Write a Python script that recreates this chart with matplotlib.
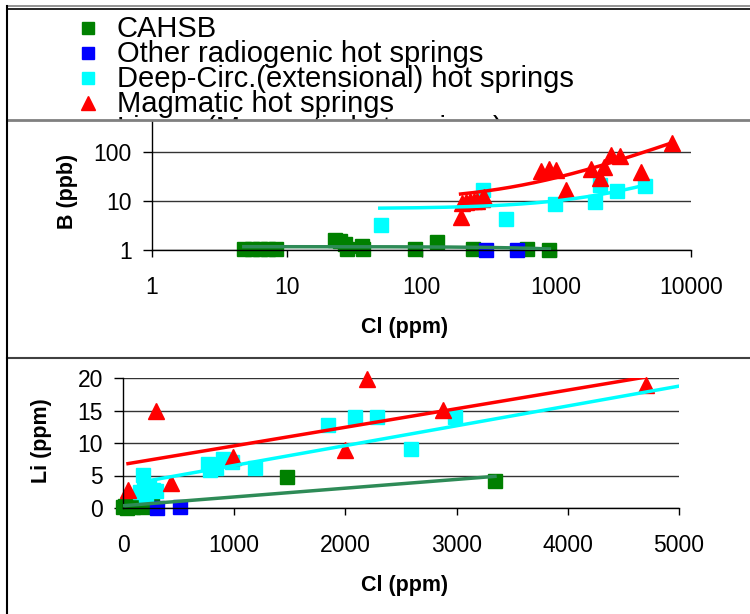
import numpy as np
import matplotlib
matplotlib.use('Agg')
import matplotlib.pyplot as plt
from matplotlib.lines import Line2D

plt.rcParams['font.family'] = ['Liberation Sans', 'DejaVu Sans']

# ---- data ----
labels = ['CAHSB', 'Other radiogenic hot springs',
          'Deep-Circ.(extensional) hot springs', 'Magmatic hot springs',
          'Linear (Magmatic hot springs)']
colors = ['#008000', '#0000FF', '#00FFFF', '#FF0000']
trend_colors = ['#2E8B57', '#00FFFF', '#FF0000']

# top panel: Cl (ppm) vs B (ppb), log-log
b_cahsb_cl = [4.8, 5.5, 6.3, 7.2, 8.3, 23, 25, 27, 28, 36, 37, 89, 130, 240, 610, 890]
b_cahsb_b = [1.05, 1.05, 1.05, 1.05, 1.05, 1.6, 1.5, 1.3, 1.05, 1.2, 1.05, 1.05, 1.45, 1.05, 1.05, 1.0]
b_other_cl = [300, 510]
b_other_b = [1.0, 1.0]
b_deep_cl = [50, 287, 425, 980, 1950, 2100, 2830, 4570]
b_deep_b = [3.2, 16.5, 4.3, 8.7, 9.5, 21, 16, 20.5]
b_mag_cl = [195, 200, 215, 230, 245, 260, 280, 290, 770, 890, 1000, 1180,
            1800, 2100, 2270, 2570, 2960, 4270, 7200]
b_mag_b = [4.8, 9.0, 9.5, 9.8, 10, 10, 11, 12.3, 41, 44, 42, 16.5,
           46, 30, 50, 87, 83, 40, 155]

# top trend lines (linear fits shown on log axes): intercept, slope, Cl range
b_trend = [(1.17, -0.000135, 4.8, 890),
           (7.0, 0.0031, 49, 4570),
           (10.0, 0.02, 195, 7200)]

# bottom panel: Cl (ppm) vs Li (ppm)
li_cahsb_cl = [0, 20, 40, 60, 90, 120, 150, 180, 220, 260, 1475, 3345]
li_cahsb_li = [0.1, 0.3, 0.0, 0.4, 0.2, 0.5, 0.3, 0.1, 0.4, 0.5, 4.8, 4.2]
li_other_cl = [305, 510]
li_other_li = [0.0, 0.2]
li_deep_cl = [150, 182, 190, 210, 230, 270, 300, 765, 780, 840, 900, 980,
              1190, 1845, 2085, 2285, 2590, 2985]
li_deep_li = [2.4, 5.1, 3.0, 2.0, 3.3, 2.8, 2.6, 6.8, 5.8, 6.2, 7.5, 7.1,
              6.2, 12.7, 14.0, 14.0, 9.1, 14.0]
li_mag_cl = [45, 295, 430, 990, 2000, 2190, 2880, 4700]
li_mag_li = [2.8, 15.0, 3.9, 7.9, 8.9, 19.8, 15.1, 18.9]

li_trend = [(0.35, 0.00135, 0, 3345),
            (3.5, 0.00305, 182, 5000),
            (6.7, 0.00286, 45, 4700)]

W, H = 750, 614
fig = plt.figure(figsize=(W / 100, H / 100), dpi=100)


def fx(px):
    return px / W


def fy(py):
    return 1 - py / H


def style_axes(ax):
    for s in ['top', 'right']:
        ax.spines[s].set_visible(False)
    for s in ['left', 'bottom']:
        ax.spines[s].set_color('black')
        ax.spines[s].set_linewidth(1)
    ax.yaxis.grid(True, color='#333333', lw=1)
    ax.set_axisbelow(True)
    ax.tick_params(axis='y', direction='out', length=6.5, width=1, pad=8,
                   labelsize=16.5, color='black')
    ax.tick_params(axis='x', direction='out', length=5, width=1, pad=14,
                   labelsize=16.5, color='black')


def draw_series(ax, xs, ys):
    for x, y, c, m, ms in zip(xs, ys, colors, ['s', 's', 's', '^'], [9.5, 9.5, 9.5, 11.5]):
        ax.plot(x, y, ls='none', marker=m, ms=ms, color=c, mec=c, zorder=2, clip_on=False)


# ---- top panel ----
ax1 = fig.add_axes([fx(152), fy(250), (691 - 152) / W, (250 - 121) / H])
ax1.set_xscale('log')
ax1.set_yscale('log')
draw_series(ax1, [b_cahsb_cl, b_other_cl, b_deep_cl, b_mag_cl],
            [b_cahsb_b, b_other_b, b_deep_b, b_mag_b])
for (a, b, x0, x1), c in zip(b_trend, trend_colors):
    x = np.logspace(np.log10(x0), np.log10(x1), 200)
    ax1.plot(x, a + b * x, color=c, lw=2.5, zorder=3)
ax1.set_xlim(1, 10000)
ax1.set_ylim(1, 430)
ax1.minorticks_off()
ax1.set_xticks([1, 10, 100, 1000, 10000], ['1', '10', '100', '1000', '10000'])
ax1.set_yticks([1, 10, 100], ['1', '10', '100'])
style_axes(ax1)

# ---- bottom panel ----
ax2 = fig.add_axes([fx(123), fy(508), (679 - 123) / W, (508 - 378) / H])
draw_series(ax2, [li_cahsb_cl, li_other_cl, li_deep_cl, li_mag_cl],
            [li_cahsb_li, li_other_li, li_deep_li, li_mag_li])
for (a, b, x0, x1), c in zip(li_trend, trend_colors):
    x = np.linspace(x0, x1, 50)
    ax2.plot(x, a + b * x, color=c, lw=2.5, zorder=3)
ax2.set_xlim(0, 5000)
ax2.set_ylim(0, 20)
ax2.set_xticks(range(0, 5001, 1000))
ax2.set_yticks(range(0, 21, 5))
style_axes(ax2)

# axis titles
fig.text(fx(405), fy(328), 'Cl (ppm)', fontsize=15.5, fontweight='bold', ha='center', va='center')
fig.text(fx(405), fy(586), 'Cl (ppm)', fontsize=15.5, fontweight='bold', ha='center', va='center')
fig.text(fx(68), fy(191), 'B (ppb)', fontsize=15.5, fontweight='bold', rotation=90, ha='center', va='center')
fig.text(fx(42), fy(441), 'Li (ppm)', fontsize=15.5, fontweight='bold', rotation=90, ha='center', va='center')

# ---- legend box (top, last entry cut off by the chart below) ----
lax = fig.add_axes([fx(7), fy(120), 1 - fx(7), (120 - 9) / H])
lax.set_xlim(7, 750)
lax.set_ylim(120, 9)
lax.axis('off')
rows = [28, 53, 78, 103, 128]
for i, (lab, r) in enumerate(zip(labels, rows)):
    if i < 4:
        m = '^' if i == 3 else 's'
        lax.plot(88, r, ls='none', marker=m, ms=10 if m == '^' else 8,
                 color=colors[i], mec=colors[i])
    lax.text(117, r + 9, lab, fontsize=21, va='baseline', ha='left', clip_on=True)


# frame lines
def hline(y, x0, x1, color, lw):
    fig.add_artist(Line2D([fx(x0), fx(x1)], [fy(y), fy(y)], color=color, lw=lw,
                          transform=fig.transFigure))


hline(6, 7, 750, '#808080', 1.2)
hline(9, 7, 750, 'black', 1.2)
hline(120, 7, 750, '#808080', 2)
hline(358, 7, 750, '#404040', 1.5)
fig.add_artist(Line2D([fx(7), fx(7)], [fy(6), 0], color='black', lw=1.5,
                      transform=fig.transFigure))

fig.savefig('out.png', dpi=100)
